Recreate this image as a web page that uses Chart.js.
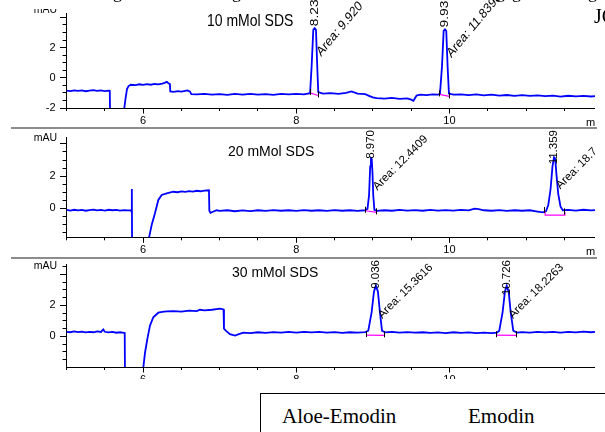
<!DOCTYPE html>
<html><head><meta charset="utf-8">
<script src="https://cdn.jsdelivr.net/npm/chart.js@4.4.1/dist/chart.umd.min.js"></script>
<style>
html,body{margin:0;padding:0;background:#fff;}
body{width:605px;height:432px;overflow:hidden;position:relative;}
.panel{position:absolute;left:0;width:595px;overflow:hidden;}
.panel canvas{position:absolute;left:0;}
.sep{position:absolute;left:11px;width:586px;height:2px;background:#8c8c8c;}
.serif{position:absolute;font-family:'Liberation Serif','Times New Roman',serif;color:#000;white-space:nowrap;}
</style>
</head><body>
<div class="panel" style="top:0;height:127px;"><canvas id="c1" width="605" height="128" style="top:0;width:605px;height:128px;"></canvas></div>
<div class="sep" style="top:127px"></div>
<div class="panel" style="top:129px;height:128px;"><canvas id="c2" width="605" height="258" style="top:-129px;width:605px;height:258px;"></canvas></div>
<div class="sep" style="top:257px"></div>
<div class="panel" style="top:259px;height:120px;"><canvas id="c3" width="605" height="400" style="top:-259px;width:605px;height:400px;"></canvas></div>
<div style="position:absolute;left:0;top:0;width:200px;height:9px;background:#fff;"></div>
<span class="serif" style="left:113px;top:-17px;font-size:18px;line-height:18px;">g</span>
<span class="serif" style="left:232px;top:-17px;font-size:18px;line-height:18px;">g</span>
<span class="serif" style="left:496px;top:-17px;font-size:18px;line-height:18px;">g</span>
<span class="serif" style="left:512px;top:-17px;font-size:18px;line-height:18px;">g</span>
<span class="serif" style="left:588px;top:-17px;font-size:18px;line-height:18px;">g</span>
<span class="serif" style="left:594px;top:6px;font-size:20px;line-height:20px;">JC</span>
<div style="position:absolute;left:260px;top:393px;width:400px;height:80px;border:1.5px solid #000;box-sizing:border-box;"></div>
<span class="serif" style="left:282px;top:406px;font-size:21px;line-height:21px;">Aloe-Emodin</span>
<span class="serif" style="left:468px;top:406px;font-size:21px;line-height:21px;">Emodin</span>
<script>
const FONT = "'Liberation Sans', Arial, sans-serif";

// ---------- data ----------
const xTickVals = [5,5.5,6,6.5,7,7.5,8,8.5,9,9.5,10,10.5,11,11.5];
const xLabelVals = [6,8,10];
const yTickVals = [-2,-1.5,-1,-0.5,0,0.5,1,1.5,2,2.5,3,3.5,4,4.5];
const yLabels10 = [-2,0,2];
const yLabels20 = [0,2];
const yLabels30 = [0,2];
const titles = ['10 mMol SDS','20 mMol SDS','30 mMol SDS'];

const trace10 = [[5.00,-0.85],[5.05,-0.88],[5.10,-0.83],[5.15,-0.87],[5.20,-0.84],[5.25,-0.89],[5.30,-0.85],[5.35,-0.82],[5.40,-0.87],[5.45,-0.84],[5.50,-0.88],[5.55,-0.85],[5.565,-0.86],[5.57,-3],
[5.74,-3],[5.75,-2.2],[5.77,-1.4],[5.79,-0.75],[5.81,-0.55],[5.84,-0.46],[5.90,-0.48],[5.95,-0.43],[6.00,-0.47],[6.05,-0.42],[6.10,-0.46],[6.15,-0.41],[6.20,-0.44],[6.25,-0.38],[6.28,-0.34],[6.31,-0.27],[6.33,-0.36],[6.35,-0.42],[6.355,-0.9],[6.40,-0.93],[6.45,-0.88],[6.50,-0.92],[6.55,-0.87],[6.58,-0.84],[6.61,-0.9],[6.63,-1.08],[6.70,-1.1],[6.80,-1.06],[6.90,-1.12],[7.00,-1.08],[7.10,-1.13],[7.20,-1.07],[7.30,-1.11],[7.40,-1.06],[7.50,-1.12],[7.60,-1.08],[7.70,-1.13],[7.80,-1.07],[7.90,-1.1],[8.00,-1.06],[8.10,-1.1],[8.18,-1.02],[8.20,0.72],[8.222,3.17],[8.24,3.28],[8.257,3.17],[8.274,0.72],[8.287,-0.95],[8.35,-1.05],[8.45,-1.02],[8.55,-1.06],[8.65,-1.0],[8.72,-0.9],[8.80,-1.05],[8.90,-1.08],[8.95,-1.2],[9.00,-1.3],[9.05,-1.35],[9.15,-1.38],[9.25,-1.33],[9.35,-1.4],[9.45,-1.36],[9.50,-1.45],[9.53,-1.52],[9.57,-1.18],[9.62,-1.12],[9.70,-1.15],[9.78,-1.1],[9.85,-1.12],[9.876,-1.05],[9.902,0.72],[9.924,3.1],[9.941,3.2],[9.958,3.1],[9.976,0.72],[9.993,-1.05],[10.05,-1.12],[10.15,-1.1],[10.25,-1.15],[10.35,-1.1],[10.45,-1.16],[10.55,-1.12],[10.65,-1.18],[10.75,-1.14],[10.85,-1.2],[10.95,-1.15],[11.05,-1.2],[11.15,-1.16],[11.25,-1.22],[11.35,-1.18],[11.45,-1.24],[11.55,-1.19],[11.65,-1.23],[11.75,-1.2],[11.85,-1.24],[11.90,-1.22]];

const trace20 = [[5.00,-0.1],[5.05,-0.14],[5.10,-0.09],[5.15,-0.13],[5.20,-0.1],[5.25,-0.15],[5.30,-0.11],[5.35,-0.08],[5.40,-0.13],[5.45,-0.1],[5.50,-0.14],[5.55,-0.09],[5.60,-0.12],[5.65,-0.1],[5.70,-0.14],[5.75,-0.11],[5.80,-0.13],[5.84,-0.12],[5.85,-0.22],[5.853,1.2],[5.857,-3],
[6.077,-3],[6.08,-1.76],[6.112,-1.04],[6.155,-0.31],[6.199,0.52],[6.243,0.83],[6.308,0.93],[6.394,1.03],[6.45,1.0],[6.50,1.05],[6.55,1.02],[6.60,1.07],[6.65,1.04],[6.70,1.09],[6.75,1.06],[6.80,1.1],[6.86,1.12],[6.865,-0.15],[6.88,-0.28],[6.92,-0.2],[6.96,-0.12],[7.00,-0.16],[7.10,-0.12],[7.20,-0.18],[7.30,-0.13],[7.40,-0.17],[7.50,-0.12],[7.60,-0.16],[7.70,-0.11],[7.80,-0.15],[7.90,-0.12],[8.00,-0.16],[8.10,-0.11],[8.20,-0.15],[8.30,-0.12],[8.40,-0.16],[8.50,-0.11],[8.60,-0.15],[8.70,-0.12],[8.80,-0.16],[8.90,-0.12],[8.93,-0.02],[8.95,0.8],[8.965,2.6],[8.975,3.1],[8.985,3.05],[8.995,2.2],[9.005,0.8],[9.02,-0.1],[9.05,-0.16],[9.15,-0.12],[9.25,-0.15],[9.35,-0.1],[9.45,-0.14],[9.55,-0.11],[9.65,-0.15],[9.75,-0.1],[9.85,-0.14],[9.95,-0.11],[10.05,-0.14],[10.15,-0.1],[10.25,-0.13],[10.33,-0.02],[10.38,-0.05],[10.45,-0.12],[10.55,-0.15],[10.65,-0.11],[10.75,-0.16],[10.85,-0.12],[10.95,-0.15],[11.05,-0.12],[11.15,-0.2],[11.22,-0.25],[11.26,-0.18],[11.29,0.2],[11.32,1.2],[11.345,2.6],[11.365,3.17],[11.38,3.1],[11.395,2.2],[11.42,0.9],[11.45,0.1],[11.48,-0.12],[11.55,-0.1],[11.65,-0.14],[11.75,-0.09],[11.85,-0.13],[11.9,-0.11]];

const trace30 = [[5.00,0.3],[5.05,0.27],[5.10,0.32],[5.15,0.28],[5.20,0.31],[5.25,0.26],[5.30,0.3],[5.35,0.27],[5.40,0.33],[5.45,0.29],[5.48,0.45],[5.50,0.3],[5.55,0.26],[5.60,0.29],[5.65,0.24],[5.70,0.27],[5.75,0.23],[5.76,0.22],[5.764,-3],
[6.003,-3],[6.005,-1.91],[6.025,-1.05],[6.055,-0.17],[6.09,0.7],[6.133,1.24],[6.199,1.53],[6.25,1.58],[6.308,1.61],[6.40,1.63],[6.50,1.6],[6.60,1.66],[6.70,1.63],[6.743,1.72],[6.80,1.68],[6.90,1.72],[7.004,1.79],[7.05,1.74],[7.056,0.5],[7.08,0.37],[7.134,0.15],[7.20,0.05],[7.25,0.15],[7.31,0.25],[7.40,0.22],[7.50,0.27],[7.60,0.23],[7.70,0.28],[7.80,0.24],[7.90,0.29],[8.00,0.25],[8.10,0.3],[8.20,0.26],[8.30,0.29],[8.40,0.24],[8.50,0.28],[8.60,0.23],[8.70,0.27],[8.80,0.24],[8.90,0.28],[8.94,0.37],[8.984,1.57],[9.014,2.88],[9.04,3.27],[9.066,2.88],[9.092,1.57],[9.119,0.37],[9.16,0.26],[9.25,0.29],[9.35,0.25],[9.45,0.28],[9.55,0.24],[9.65,0.27],[9.75,0.23],[9.85,0.26],[9.95,0.22],[10.05,0.27],[10.15,0.23],[10.25,0.26],[10.35,0.22],[10.45,0.25],[10.55,0.21],[10.62,0.24],[10.65,0.37],[10.694,1.57],[10.724,2.88],[10.747,3.27],[10.773,2.88],[10.799,1.57],[10.833,0.37],[10.88,0.25],[10.95,0.28],[11.05,0.24],[11.15,0.3],[11.25,0.26],[11.35,0.29],[11.45,0.25],[11.55,0.3],[11.65,0.26],[11.75,0.31],[11.85,0.27],[11.9,0.29]];

// integration baselines (magenta)
const base10 = [[[8.18,-1.0],[8.287,-1.17]], [[9.87,-1.1],[10.0,-1.23]]];
const base20 = [[[8.905,-0.15],[9.05,-0.25]], [[11.245,-0.17],[11.25,-0.42],[11.505,-0.42],[11.508,-0.25]]];
const base30 = [[[8.92,0.09],[9.158,0.07]], [[10.616,0.08],[10.87,0.07]]];

// peaks: retention times, labels
const peakT10 = [8.24, 9.941];
const rtLabels10 = ['8.230','9.930'];
const areaLabels10 = ['Area: 9.920','Area: 11.8398'];
const peakT20 = [8.975, 11.365];
const rtLabels20 = ['8.970','11.359'];
const areaLabels20 = ['Area: 12.4409','Area: 18.7452'];
const peakT30 = [9.04, 10.747];
const rtLabels30 = ['9.036','10.726'];
const areaLabels30 = ['Area: 15.3616','Area: 18.2263'];

// ---------- drawing ----------
function txt(ctx, s, x, y, o) {
  o = o || {};
  ctx.save();
  ctx.translate(x, y);
  ctx.scale(1, o.sy || 1);
  ctx.rotate(o.rot || 0);
  ctx.font = o.font || ('11px ' + FONT);
  ctx.textAlign = o.align || 'left';
  ctx.textBaseline = o.base || 'middle';
  ctx.fillStyle = '#000';
  ctx.fillText(s, 0, 0);
  ctx.restore();
}
const al = p => Math.round(p - 0.5) + 0.5;

function makePanel(cfg) {
  const datasets = [{
    data: cfg.trace.map(p => ({x: p[0], y: p[1]})),
    borderColor: '#0000ff', borderWidth: 1.8, pointRadius: 0, tension: 0, fill: false, order: 2
  }];
  cfg.bases.forEach(b => datasets.push({
    data: b.map(p => ({x: p[0], y: p[1]})),
    borderColor: '#ff00ff', borderWidth: 1.2, pointRadius: 0, tension: 0, fill: false, order: 1
  }));
  const annot = {
    id: 'annot',
    afterDraw(chart) {
      const ctx = chart.ctx, xs = chart.scales.x, ys = chart.scales.y, ca = chart.chartArea;
      const sy = cfg.sy;
      ctx.save();
      ctx.strokeStyle = '#000'; ctx.lineWidth = 1;
      ctx.beginPath();
      yTickVals.forEach(v => {
        if (v >= cfg.ymin && v <= cfg.ymax && Math.abs(v % 2) < 1e-9) {
          const py = al(ys.getPixelForValue(v));
          ctx.moveTo(ca.left - 6.5, py); ctx.lineTo(ca.left, py);
        }
      });
      xLabelVals.forEach(v => {
        const px = al(xs.getPixelForValue(v));
        ctx.moveTo(px, ca.bottom); ctx.lineTo(px, ca.bottom + 5.5);
      });
      cfg.bases.forEach(b => {
        [b[0], b[b.length - 1]].forEach(p => {
          const px = al(xs.getPixelForValue(p[0])), py = ys.getPixelForValue(p[1]);
          ctx.moveTo(px, py - 4); ctx.lineTo(px, py + 2);
        });
      });
      ctx.stroke();
      ctx.restore();

      txt(ctx, 'mAU', 57, cfg.mauY, {font: '10.5px ' + FONT, align: 'right', sy});
      txt(ctx, 'min', 586, ca.bottom + 17.5, {font: '11px ' + FONT, base: 'alphabetic'});
      txt(ctx, cfg.title, cfg.titleX, cfg.titleY, {font: '14px ' + FONT, sy});

      const lf = '11.5px ' + FONT;
      cfg.peakT.forEach((t, i) => {
        let best = -1e9;
        cfg.trace.forEach(p => { if (Math.abs(p[0] - t) < 0.05 && p[1] > best) best = p[1]; });
        const px = xs.getPixelForValue(t), py = ys.getPixelForValue(best);
        ctx.save(); ctx.font = lf;
        const len = ctx.measureText(cfg.rtLabels[i]).width * sy;
        ctx.restore();
        let start = py - 2;
        if (start - len < cfg.labelTop) start = cfg.labelTop + len;
        txt(ctx, cfg.rtLabels[i], px, start, {font: lf, rot: -Math.PI / 2, sy});
        txt(ctx, cfg.areaLabels[i], px + 4, py + cfg.areaDy, {font: lf, rot: -Math.PI / 4, sy});
      });
    }
  };
  const xAxisH = 20;
  new Chart(document.getElementById(cfg.id), {
    type: 'line',
    data: {datasets},
    plugins: [annot],
    options: {
      responsive: false, animation: false, events: [],
      layout: {padding: {top: cfg.top, left: 0, right: 10, bottom: cfg.canvasH - cfg.bottom - xAxisH}},
      plugins: {legend: {display: false}, tooltip: {enabled: false}, title: {display: false}},
      scales: {
        x: {
          type: 'linear', min: 5, max: 11.9,
          afterFit(s) { s.height = xAxisH; },
          afterBuildTicks(s) { s.ticks = xTickVals.map(v => ({value: v})); },
          ticks: {autoSkip: false, maxRotation: 0, padding: 3, color: '#000', font: {family: FONT, size: 11},
            callback: v => xLabelVals.includes(v) ? String(v) : ''},
          grid: {drawOnChartArea: false, drawTicks: true, tickLength: 3, color: '#000', tickColor: '#000'},
          border: {display: true, color: '#000', width: 1}
        },
        y: {
          type: 'linear', min: cfg.ymin, max: cfg.ymax,
          afterFit(s) { s.width = 66.5; },
          afterBuildTicks(s) { s.ticks = yTickVals.filter(v => v >= cfg.ymin - 1e-9 && v <= cfg.ymax + 1e-9).map(v => ({value: v})); },
          ticks: {autoSkip: false, padding: 7, color: '#000', font: {family: FONT, size: 11},
            callback: v => cfg.ylabels.includes(v) ? String(v) : ''},
          grid: {drawOnChartArea: false, drawTicks: true, tickLength: 4, color: '#000', tickColor: '#000'},
          border: {display: true, color: '#000', width: 1}
        }
      }
    }
  });
}

makePanel({id: 'c1', canvasH: 128, top: 13.5, bottom: 108, ymin: -2, ymax: 4.25, ylabels: yLabels10,
  trace: trace10, bases: base10, peakT: peakT10, rtLabels: rtLabels10, areaLabels: areaLabels10,
  title: titles[0], titleX: 207, titleY: 21, mauY: 10, sy: 1.2, areaDy: 26, labelTop: -20});
makePanel({id: 'c2', canvasH: 258, top: 137.5, bottom: 237.3, ymin: -1.8, ymax: 4.4, ylabels: yLabels20,
  trace: trace20, bases: base20, peakT: peakT20, rtLabels: rtLabels20, areaLabels: areaLabels20,
  title: titles[1], titleX: 228, titleY: 152, mauY: 138, sy: 1, areaDy: 30, labelTop: 130});
makePanel({id: 'c3', canvasH: 400, top: 264, bottom: 367, ymin: -1.97, ymax: 4.67, ylabels: yLabels30,
  trace: trace30, bases: base30, peakT: peakT30, rtLabels: rtLabels30, areaLabels: areaLabels30,
  title: titles[2], titleX: 232, titleY: 273.5, mauY: 266.5, sy: 1, areaDy: 31, labelTop: 260});
</script>
</body></html>
